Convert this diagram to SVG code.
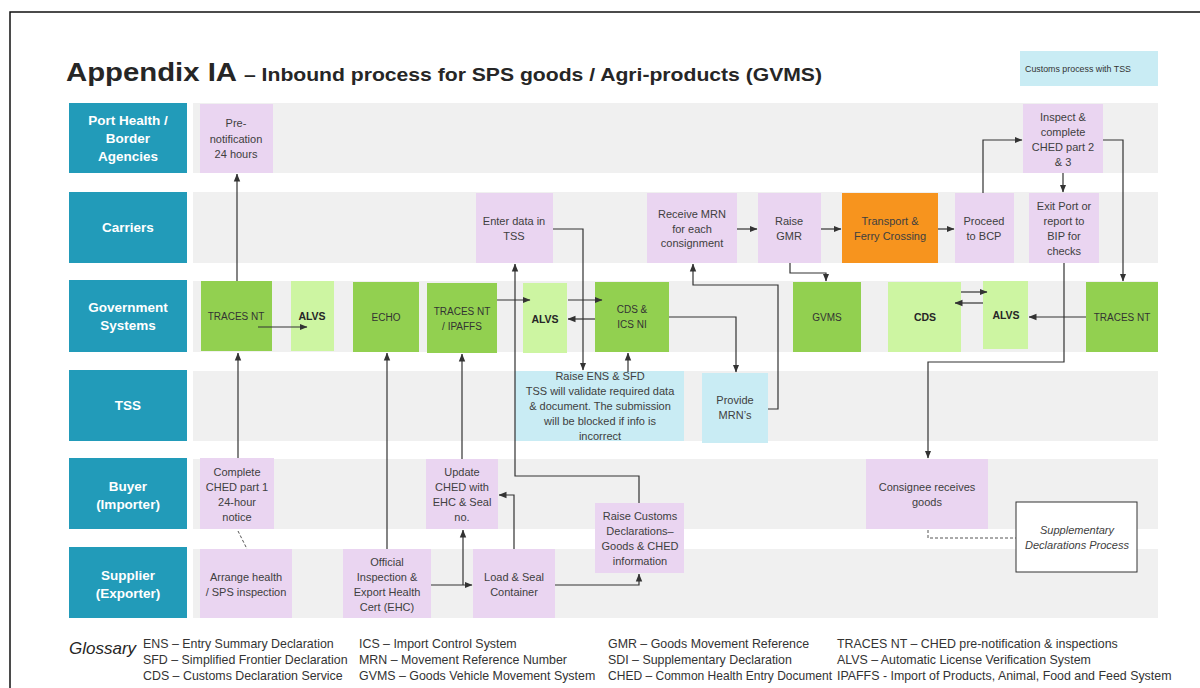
<svg xmlns="http://www.w3.org/2000/svg" width="1200" height="688" viewBox="0 0 1200 688">
<style>
text{font-family:"Liberation Sans",Arial,sans-serif;}
.hdr{fill:#229bb9;}
.hdrt{fill:#ffffff;font-weight:bold;font-size:13.5px;text-anchor:middle;}
.lane{fill:#f0f0f0;}
.pk{fill:#ead5f1;}
.dg{fill:#92d050;}
.lg{fill:#cdf5a2;}
.cy{fill:#c9ecf4;}
.or{fill:#f7941e;}
.t{font-size:11px;fill:#404040;text-anchor:middle;}
.g{font-size:10px;fill:#333;text-anchor:middle;}
.gb{font-size:10.5px;fill:#262626;font-weight:bold;text-anchor:middle;}
.gl{font-size:12.4px;fill:#333;}
.c{fill:none;stroke:#333;stroke-width:1.2;marker-end:url(#ah);}
.d{fill:none;stroke:#555;stroke-width:1;stroke-dasharray:3,2;}
</style>
<defs>
<marker id="ah" markerWidth="8" markerHeight="8" refX="7.5" refY="4" orient="auto" markerUnits="userSpaceOnUse">
<path d="M0,0.8 L8,4 L0,7.2 z" fill="#333"/>
</marker>
</defs>
<rect x="0" y="0" width="1200" height="688" fill="#ffffff"/>
<rect x="10" y="12" width="1205" height="700" fill="none" stroke="#111" stroke-width="1.5"/>

<g id="title">
<text x="66" y="81" font-size="25" font-weight="bold" fill="#262626" textLength="171" lengthAdjust="spacingAndGlyphs">Appendix IA</text>
<text x="244" y="81" font-size="18.5" font-weight="bold" fill="#262626" textLength="578" lengthAdjust="spacingAndGlyphs">– Inbound process for SPS goods  / Agri-products (GVMS)</text>
</g>

<g id="legend">
<rect class="cy" x="1020" y="51" width="138" height="35"/>
<text x="1025" y="72" font-size="9" fill="#333" textLength="106" lengthAdjust="spacingAndGlyphs">Customs process with TSS</text>
</g>

<g id="lanes">
<rect class="lane" x="193" y="103" width="965" height="70"/>
<rect class="lane" x="193" y="192" width="965" height="71"/>
<rect class="lane" x="193" y="281" width="965" height="71"/>
<rect class="lane" x="193" y="371" width="965" height="70"/>
<rect class="lane" x="193" y="459" width="965" height="70"/>
<rect class="lane" x="193" y="549" width="965" height="69"/>
</g>

<g id="lane-port-health">
<rect class="hdr" x="69" y="103" width="118" height="70"/>
<text class="hdrt" x="128" y="125">Port Health /</text>
<text class="hdrt" x="128" y="143">Border</text>
<text class="hdrt" x="128" y="161">Agencies</text>
</g>
<g id="lane-carriers">
<rect class="hdr" x="69" y="192" width="118" height="71"/>
<text class="hdrt" x="128" y="232">Carriers</text>
</g>
<g id="lane-government">
<rect class="hdr" x="69" y="280" width="118" height="72"/>
<text class="hdrt" x="128" y="312">Government</text>
<text class="hdrt" x="128" y="330">Systems</text>
</g>
<g id="lane-tss">
<rect class="hdr" x="69" y="370" width="118" height="71"/>
<text class="hdrt" x="128" y="410">TSS</text>
</g>
<g id="lane-buyer">
<rect class="hdr" x="69" y="458" width="118" height="71"/>
<text class="hdrt" x="128" y="491">Buyer</text>
<text class="hdrt" x="128" y="509">(Importer)</text>
</g>
<g id="lane-supplier">
<rect class="hdr" x="69" y="547" width="118" height="71"/>
<text class="hdrt" x="128" y="580">Supplier</text>
<text class="hdrt" x="128" y="598">(Exporter)</text>
</g>

<!-- Port Health nodes -->
<g id="n-prenotification">
<rect class="pk" x="200" y="104" width="73" height="69"/>
<text class="t" x="236" y="127">Pre-</text>
<text class="t" x="236" y="143">notification</text>
<text class="t" x="236" y="158">24 hours</text>
</g>
<g id="n-inspect">
<rect class="pk" x="1023" y="104" width="80" height="69"/>
<text class="t" x="1063" y="121">Inspect &amp;</text>
<text class="t" x="1063" y="136">complete</text>
<text class="t" x="1063" y="151">CHED part 2</text>
<text class="t" x="1063" y="166">&amp; 3</text>
</g>

<!-- Carriers nodes -->
<g id="n-enter-data">
<rect class="pk" x="476" y="193" width="77" height="70"/>
<text class="t" x="514" y="225">Enter data in</text>
<text class="t" x="514" y="240">TSS</text>
</g>
<g id="n-receive-mrn">
<rect class="pk" x="647" y="193" width="90" height="70"/>
<text class="t" x="692" y="218">Receive MRN</text>
<text class="t" x="692" y="233">for each</text>
<text class="t" x="692" y="247">consignment</text>
</g>
<g id="n-raise-gmr">
<rect class="pk" x="758" y="193" width="63" height="70"/>
<text class="t" x="789" y="225">Raise</text>
<text class="t" x="789" y="240">GMR</text>
</g>
<g id="n-transport">
<rect class="or" x="842" y="193" width="96" height="70"/>
<text class="t" x="890" y="225">Transport &amp;</text>
<text class="t" x="890" y="240">Ferry Crossing</text>
</g>
<g id="n-proceed">
<rect class="pk" x="955" y="193" width="59" height="70"/>
<text class="t" x="984" y="225">Proceed</text>
<text class="t" x="984" y="240">to BCP</text>
</g>
<g id="n-exit-port">
<rect class="pk" x="1029" y="193" width="70" height="70"/>
<text class="t" x="1064" y="210">Exit Port or</text>
<text class="t" x="1064" y="225">report to</text>
<text class="t" x="1064" y="240">BIP for</text>
<text class="t" x="1064" y="255">checks</text>
</g>

<!-- Government systems nodes -->
<g id="n-traces1">
<rect class="dg" x="201" y="281" width="71" height="70"/>
<text class="g" x="236" y="320">TRACES  NT</text>
</g>
<g id="n-alvs1">
<rect class="lg" x="291" y="281" width="43" height="70"/>
<text class="gb" x="312" y="320">ALVS</text>
</g>
<g id="n-echo">
<rect class="dg" x="353" y="282" width="66" height="70"/>
<text class="g" x="386" y="321">ECHO</text>
</g>
<g id="n-traces-ipaffs">
<rect class="dg" x="427" y="283" width="70" height="70"/>
<text class="g" x="462" y="315">TRACES  NT</text>
<text class="g" x="462" y="330">/ IPAFFS</text>
</g>
<g id="n-alvs2">
<rect class="lg" x="523" y="283" width="44" height="70"/>
<text class="gb" x="545" y="323">ALVS</text>
</g>
<g id="n-cds-ics">
<rect class="dg" x="595" y="282" width="74" height="70"/>
<text class="g" x="632" y="313">CDS &amp;</text>
<text class="g" x="632" y="328">ICS NI</text>
</g>
<g id="n-gvms">
<rect class="dg" x="793" y="282" width="68" height="70"/>
<text class="g" x="827" y="321">GVMS</text>
</g>
<g id="n-cds">
<rect class="lg" x="888" y="282" width="73" height="70"/>
<text class="gb" x="925" y="321">CDS</text>
</g>
<g id="n-alvs3">
<rect class="lg" x="983" y="281" width="45" height="68"/>
<text class="gb" x="1006" y="319">ALVS</text>
</g>
<g id="n-traces2">
<rect class="dg" x="1086" y="282" width="72" height="70"/>
<text class="g" x="1122" y="321">TRACES  NT</text>
</g>

<!-- TSS nodes -->
<g id="n-raise-ens">
<rect class="cy" x="515" y="371" width="169" height="70"/>
<text class="t" x="600" y="380">Raise ENS &amp; SFD</text>
<text class="t" x="600" y="395">TSS will validate required data</text>
<text class="t" x="600" y="410">&amp; document.  The submission</text>
<text class="t" x="600" y="425">will be blocked if info is</text>
<text class="t" x="600" y="440">incorrect</text>
</g>
<g id="n-provide-mrn">
<rect class="cy" x="702" y="373" width="66" height="70"/>
<text class="t" x="735" y="404">Provide</text>
<text class="t" x="735" y="419">MRN’s</text>
</g>

<!-- Buyer nodes -->
<g id="n-complete-ched">
<rect class="pk" x="200" y="458" width="74" height="71"/>
<text class="t" x="237" y="476">Complete</text>
<text class="t" x="237" y="491">CHED part 1</text>
<text class="t" x="237" y="506">24-hour</text>
<text class="t" x="237" y="521">notice</text>
</g>
<g id="n-update-ched">
<rect class="pk" x="426" y="459" width="72" height="70"/>
<text class="t" x="462" y="476">Update</text>
<text class="t" x="462" y="491">CHED with</text>
<text class="t" x="462" y="506">EHC &amp; Seal</text>
<text class="t" x="462" y="521">no.</text>
</g>
<g id="n-consignee">
<rect class="pk" x="866" y="459" width="122" height="70"/>
<text class="t" x="927" y="491">Consignee receives</text>
<text class="t" x="927" y="506">goods</text>
</g>

<!-- Supplier nodes -->
<g id="n-arrange-health">
<rect class="pk" x="200" y="549" width="92" height="69"/>
<text class="t" x="246" y="581">Arrange health</text>
<text class="t" x="246" y="596">/ SPS inspection</text>
</g>
<g id="n-official-inspection">
<rect class="pk" x="343" y="549" width="88" height="69"/>
<text class="t" x="387" y="566">Official</text>
<text class="t" x="387" y="581">Inspection &amp;</text>
<text class="t" x="387" y="596">Export Health</text>
<text class="t" x="387" y="611">Cert (EHC)</text>
</g>
<g id="n-load-seal">
<rect class="pk" x="473" y="549" width="82" height="69"/>
<text class="t" x="514" y="581">Load &amp; Seal</text>
<text class="t" x="514" y="596">Container</text>
</g>
<g id="n-raise-customs">
<rect class="pk" x="595" y="503" width="89" height="70"/>
<text class="t" x="640" y="520">Raise Customs</text>
<text class="t" x="640" y="535">Declarations–</text>
<text class="t" x="640" y="550">Goods &amp; CHED</text>
<text class="t" x="640" y="565">information</text>
</g>

<g id="n-supplementary">
<rect x="1016" y="502" width="121" height="70" fill="#ffffff" stroke="#333" stroke-width="1"/>
<text class="t" x="1077" y="534" font-style="italic">Supplementary</text>
<text class="t" x="1077" y="549" font-style="italic">Declarations  Process</text>
</g>

<g id="connectors">
<path class="c" d="M237,281 V174"/>
<path class="c" d="M238,458 V353"/>
<path class="c" d="M258,327 H307"/>
<path class="c" d="M387,549 V353"/>
<path class="c" d="M462,459 V354"/>
<path class="c" d="M431,585 H472"/>
<path class="c" d="M463,585 V530"/>
<path class="c" d="M514,549 V495 H499"/>
<path class="c" d="M555,585 H639 V574"/>
<path class="c" d="M639,503 V476 H515 V264"/>
<path class="c" d="M553,229 H583 V370"/>
<path class="c" d="M497,300 H530"/>
<path class="c" d="M568,300 H602"/>
<path class="c" d="M595,319 H568"/>
<path class="c" d="M628,372 V353"/>
<path class="c" d="M669,317 H736 V372"/>
<path class="c" d="M768,409 H778 V285 H693 V264"/>
<path class="c" d="M737,229 H757"/>
<path class="c" d="M821,229 H841"/>
<path class="c" d="M938,229 H954"/>
<path class="c" d="M790,263 V273 H826 V281"/>
<path class="c" d="M983,193 V140 H1022"/>
<path class="c" d="M1063,173 V192"/>
<path class="c" d="M1103,140 H1123 V281"/>
<path class="c" d="M961,292 H987"/>
<path class="c" d="M983,303 H955"/>
<path class="c" d="M1086,317 H1029"/>
<path class="c" d="M1064,263 V362 H928 V458"/>
<path class="d" d="M928,530 V538 H1016"/>
<path class="d" d="M238,531 L247,549"/>
</g>

<g id="glossary">
<text x="69" y="654" font-size="17" font-style="italic" fill="#262626">Glossary</text>
<text class="gl" x="143" y="648">ENS – Entry Summary Declaration</text>
<text class="gl" x="143" y="664">SFD – Simplified Frontier Declaration</text>
<text class="gl" x="143" y="680">CDS – Customs Declaration Service</text>
<text class="gl" x="359" y="648">ICS – Import Control System</text>
<text class="gl" x="359" y="664">MRN – Movement Reference Number</text>
<text class="gl" x="359" y="680">GVMS – Goods Vehicle Movement System</text>
<text class="gl" x="608" y="648">GMR – Goods Movement Reference</text>
<text class="gl" x="608" y="664">SDI – Supplementary Declaration</text>
<text class="gl" x="608" y="680" textLength="224" lengthAdjust="spacingAndGlyphs">CHED – Common Health Entry Document</text>
<text class="gl" x="837" y="648">TRACES NT – CHED pre-notification &amp; inspections</text>
<text class="gl" x="837" y="664">ALVS – Automatic License Verification System</text>
<text class="gl" x="837" y="680">IPAFFS - Import of Products, Animal, Food and Feed System</text>
</g>
</svg>
